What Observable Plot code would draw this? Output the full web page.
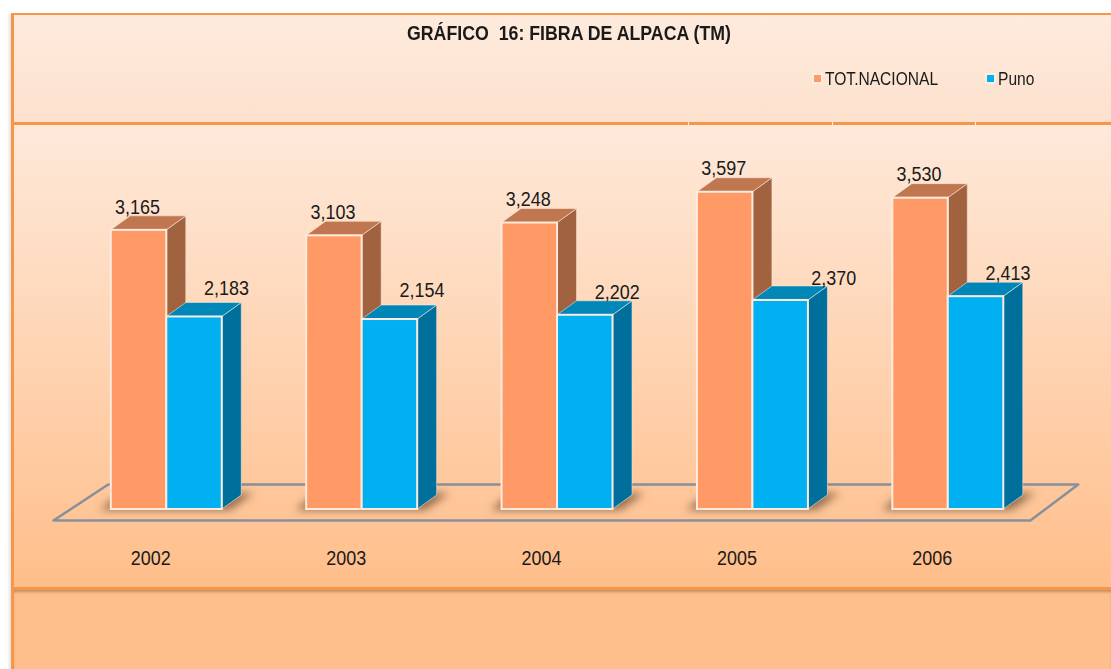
<!DOCTYPE html>
<html lang="es">
<head>
<meta charset="utf-8">
<title>Gráfico 16: Fibra de alpaca (TM)</title>
<script src="https://cdn.jsdelivr.net/npm/d3@7"></script>
<script src="https://cdn.jsdelivr.net/npm/@observablehq/plot@0.6"></script>
<style>
  html, body { margin: 0; padding: 0; background: #fff; overflow: hidden; }
  #page { position: relative; width: 1111px; height: 669px; overflow: hidden; font-family: "Liberation Sans", sans-serif; }
  .band { position: absolute; left: 11px; right: 0; box-sizing: border-box; border-left: 3px solid #F79646; }
  #b1 { top: 13px; height: 110px; border-top: 2.5px solid #F79646; background: linear-gradient(#FEEBDD, #FDE1CD); }
  #b2 { top: 122px; height: 467px; border-top: 3px solid #F79646; background: linear-gradient(#FEE9DA, #FFBE8A); }
  #b3 { top: 587px; height: 82px; border-top: 3px solid #F79646; background: #FFBF8C; box-shadow: inset 0 3px 3px -1px rgba(110,80,50,.45); }
  #edge { position: absolute; left: 7px; top: 14px; width: 4px; height: 655px; background: linear-gradient(to right, #fff, #e2e2e2); }
  .nick { position: absolute; top: 122px; width: 1px; height: 3px; background: #FDEBDD; }
  #title { position: absolute; top: 21px; left: 308px; width: 522px; text-align: center; font-weight: bold; font-size: 19.5px; line-height: 24px; color: #1a1a1a; white-space: pre; transform: scaleX(0.91); }
  .lg { position: absolute; top: 68px; height: 22px; font-size: 17.5px; line-height: 22px; color: #1a1a1a; white-space: nowrap; }
  .lg span { display: inline-block; transform: scaleX(0.89); transform-origin: left center; }
  .lg i { position: absolute; left: -13px; top: 5px; width: 7px; height: 7px; border: 2px solid #FCEFE2; }
  #chart { position: absolute; left: 0; top: 0; }
  #chart svg { display: block; background: transparent; }
</style>
</head>
<body>
<div id="page">
  <div id="edge"></div>
  <div class="band" id="b1"></div>
  <div class="band" id="b2"></div>
  <div class="band" id="b3"></div>
  <div class="nick" style="left:688px"></div>
  <div class="nick" style="left:832px"></div>
  <div class="nick" style="left:975px"></div>
  <div id="title">GRÁFICO  16: FIBRA DE ALPACA (TM)</div>
  <div class="lg" style="left:825px"><i style="background:#FF9966"></i><span>TOT.NACIONAL</span></div>
  <div class="lg" style="left:998px"><i style="background:#00B0F0"></i><span>Puno</span></div>
  <div id="chart"></div>
</div>
<script>
const years = [2002, 2003, 2004, 2005, 2006];
const totalNacional = [3165, 3103, 3248, 3597, 3530];
const puno = [2183, 2154, 2202, 2370, 2413];
const floorX = [2001.42, 2006.42, 2006.665, 2001.70, 2001.42];
const floorY = [-125, -125, 283, 283, -125];

const colors = {
  nacional: {front: "#FF9966", top: "#C0764F", side: "#A1633F"},
  puno: {front: "#00B0F0", top: "#0087B8", side: "#006F9B"}
};
const barWidth = 0.284;
const depth = {dx: 19.5, dy: -14};
const edge = "#FCEBDE";
const font = "'Liberation Sans', sans-serif";

const nacionalRows = years.map((year, i) => ({year, value: totalNacional[i], x1: year - barWidth, x2: year, key: "nacional"}));
const punoRows = years.map((year, i) => ({year, value: puno[i], x1: year, x2: year + barWidth, key: "puno"}));
const fmt = d3.format(",");

const NS = "http://www.w3.org/2000/svg";
function el(name, attrs) {
  const n = document.createElementNS(NS, name);
  for (const k in attrs) n.setAttribute(k, attrs[k]);
  return n;
}
function boxFaces(rows) {
  return (index, {x, y}) => {
    const g = el("g", {});
    for (const r of rows) {
      const L = x(r.x1), R = x(r.x2), T = y(r.value), B = y(0);
      const c = colors[r.key];
      g.append(el("polygon", {
        points: `${R},${T} ${R + depth.dx},${T + depth.dy} ${R + depth.dx},${B + depth.dy} ${R},${B}`,
        fill: c.side, stroke: edge, "stroke-opacity": 0.55, "stroke-width": 1
      }));
      g.append(el("polygon", {
        points: `${L},${T} ${L + depth.dx},${T + depth.dy} ${R + depth.dx},${T + depth.dy} ${R},${T}`,
        fill: c.top, stroke: edge, "stroke-opacity": 0.55, "stroke-width": 1
      }));
    }
    return g;
  };
}
function shadows(index, {x, y}) {
  const g = el("g", {});
  const defs = el("defs", {});
  const f = el("filter", {id: "soft", x: "-30%", y: "-80%", width: "160%", height: "260%"});
  f.append(el("feGaussianBlur", {stdDeviation: "4.2"}));
  defs.append(f);
  g.append(defs);
  for (const year of years) {
    const L = x(year - barWidth), R = x(year + barWidth), B = y(0);
    g.append(el("polygon", {
      points: `${L - 11},${B + 1} ${R + 8},${B + 1} ${R + 32},${B - 16} ${L + 10},${B - 16}`,
      fill: "#7A5638", "fill-opacity": 0.8, filter: "url(#soft)"
    }));
  }
  return g;
}
const label = (rows, dx, dy) => Plot.text(rows, {
  x: d => (d.x1 + d.x2) / 2,
  y: "value",
  text: d => fmt(d.value),
  dx, dy,
  fill: "#1a1a1a",
  fontSize: 21,
  fontFamily: font
});
const rect = rows => Plot.rect(rows, {
  x1: "x1", x2: "x2", y1: 0, y2: "value",
  fill: d => colors[d.key].front,
  stroke: edge, strokeWidth: 2
});

const chart = Plot.plot({
  width: 1111,
  height: 669,
  marginTop: 0, marginLeft: 0, marginRight: 0, marginBottom: 119,
  style: {background: "transparent", overflow: "visible"},
  x: {type: "linear", domain: [2002, 2006], range: [166.3, 947.8]},
  y: {type: "linear", axis: null, domain: [0, 3000], range: [509, 244.4]},
  marks: [
    Plot.line(floorX.map((x, i) => ({x, y: floorY[i]})), {x: "x", y: "y", stroke: "#87909A", strokeWidth: 2.5}),
    shadows,
    boxFaces(nacionalRows),
    rect(nacionalRows),
    boxFaces(punoRows),
    rect(punoRows),
    label(nacionalRows, -1.5, -23.5),
    label(punoRows.filter(d => d.year === 2002 || d.year === 2003), 32, -29),
    label(punoRows.filter(d => d.year === 2004 || d.year === 2006), 32, -23),
    label(punoRows.filter(d => d.year === 2005), 53, -22),
    Plot.axisX({
      ticks: years, tickFormat: d => String(d), tickSize: 0, tickPadding: 0,
      anchor: "bottom", label: null, fill: "#1a1a1a", fontSize: 21,
      fontFamily: font, dx: -16
    })
  ]
});
// The reference's type is a narrow sans: condense each label around its anchor.
chart.querySelectorAll("text").forEach(t => {
  const tr = t.getAttribute("transform") || "";
  t.setAttribute("transform", `${tr} scale(0.855,1)`);
});
document.getElementById("chart").append(chart);
</script>
</body>
</html>
